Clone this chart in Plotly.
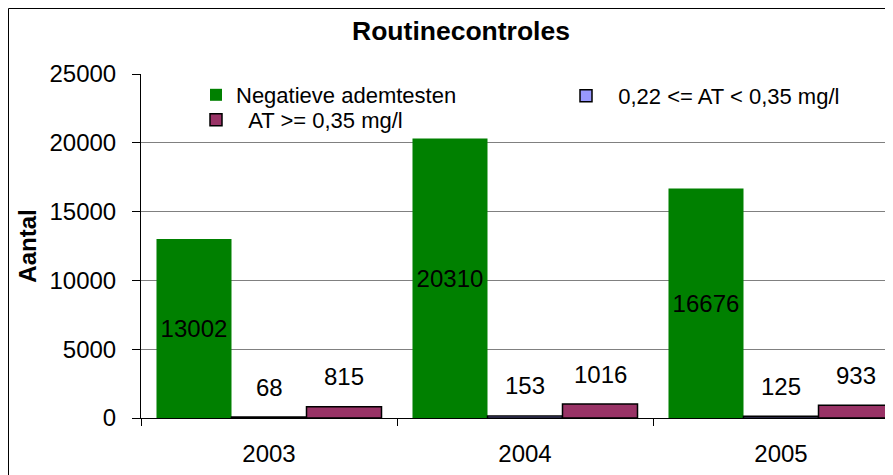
import plotly.graph_objects as go

# ---- data ----
categories = ["2003", "2004", "2005"]
series_names = ["Negatieve ademtesten", "\u00a0\u00a00,22 <= AT < 0,35 mg/l", "\u00a0\u00a0AT >= 0,35 mg/l"]
negatieve = [13002, 20310, 16676]
at_022_035 = [68, 153, 125]
at_035_plus = [815, 1016, 933]
y_ticks = [0, 5000, 10000, 15000, 20000, 25000]

FONT = "Arial, Liberation Sans, sans-serif"
OFF = 8  # page body margin of the browser
W, H = 893 - OFF, 475 - OFF
ML, MR, MT, MB = 141 - OFF, 0, 74 - OFF, 57
BARGAP = 0.121
plot_w = W - ML - MR
plot_h = H - MT - MB
cat_px = 256.0
x_end = -0.5 + plot_w / cat_px


def px_x(sx):
    return (sx - OFF - ML) / plot_w


def px_y(sy):
    return (H - MB - (sy - OFF)) / plot_h


colors = ["#008000", "#9999FF", "#993366"]
values = [negatieve, at_022_035, at_035_plus]
legend_ids = ["legend", "legend2", "legend3"]

fig = go.Figure()
for i, (name, vals, col) in enumerate(zip(series_names, values, colors)):
    kw = {}
    if i == 0:
        kw = dict(text=[str(v) for v in vals], textposition="inside",
                  insidetextanchor="middle", textangle=0, constraintext="none",
                  textfont=dict(family=FONT, size=24, color="black"))
    fig.add_trace(go.Bar(
        x=categories, y=vals, name=name, legend=legend_ids[i],
        marker=dict(color=col, line=dict(color="black" if i else col, width=1.5 if i else 0)),
        hoverinfo="y", **kw))

# outside-end data labels for the small series
bw = (1 - BARGAP) / 3
annotations = []
for s in (1, 2):
    off = (s - 1) * bw
    for ci, v in enumerate(values[s]):
        annotations.append(dict(x=ci + off, y=v, xref="x", yref="y", text=str(v),
                                showarrow=False, yanchor="middle", yshift=30,
                                font=dict(family=FONT, size=24, color="black")))

leg_common = dict(orientation="v", xanchor="left", yanchor="middle",
                  font=dict(family=FONT, size=22, color="black"),
                  bgcolor="rgba(0,0,0,0)", borderwidth=0,
                  itemclick=False, itemdoubleclick=False)

fig.update_layout(
    width=W, height=H,
    margin=dict(l=ML, r=MR, t=MT, b=MB, pad=0),
    paper_bgcolor="white", plot_bgcolor="white",
    barmode="group", bargap=BARGAP, bargroupgap=0,
    font=dict(family=FONT, size=24, color="black"),
    title=dict(text="<b>Routinecontroles</b>", x=(461 - OFF) / W, xanchor="center",
               y=1 - (31 - OFF) / H, yanchor="middle", font=dict(size=26.5, family=FONT)),
    showlegend=True,
    legend=dict(x=px_x(196), y=px_y(95), **leg_common),
    legend2=dict(x=px_x(566), y=px_y(96), **leg_common),
    legend3=dict(x=px_x(196), y=px_y(120), **leg_common),
    annotations=annotations,
    shapes=[dict(type="rect", xref="paper", yref="paper",
                 x0=px_x(OFF + 0.5), x1=1.2,
                 y0=-0.5, y1=px_y(OFF + 0.5),
                 line=dict(color="black", width=1), fillcolor="rgba(0,0,0,0)",
                 layer="below")],
)

fig.update_xaxes(type="category", range=[-0.5, x_end], tickson="boundaries",
                 ticks="outside", ticklen=7, tickcolor="black", tickwidth=1,
                 showline=True, linecolor="black", linewidth=1,
                 showgrid=False, zeroline=False, ticklabelstandoff=14,
                 tickfont=dict(family=FONT, size=24, color="black"))
fig.update_yaxes(range=[0, 25000], tickvals=y_ticks, ticktext=[str(t) for t in y_ticks],
                 ticks="outside", ticklen=8, tickcolor="black", tickwidth=1,
                 showline=True, linecolor="black", linewidth=1,
                 showgrid=True, gridcolor="#808080", gridwidth=1, zeroline=False,
                 ticklabelstandoff=11,
                 tickfont=dict(family=FONT, size=24, color="black"),
                 title=dict(text="<b>Aantal</b>", standoff=6,
                            font=dict(family=FONT, size=24, color="black")))

fig.write_html("out.html")
